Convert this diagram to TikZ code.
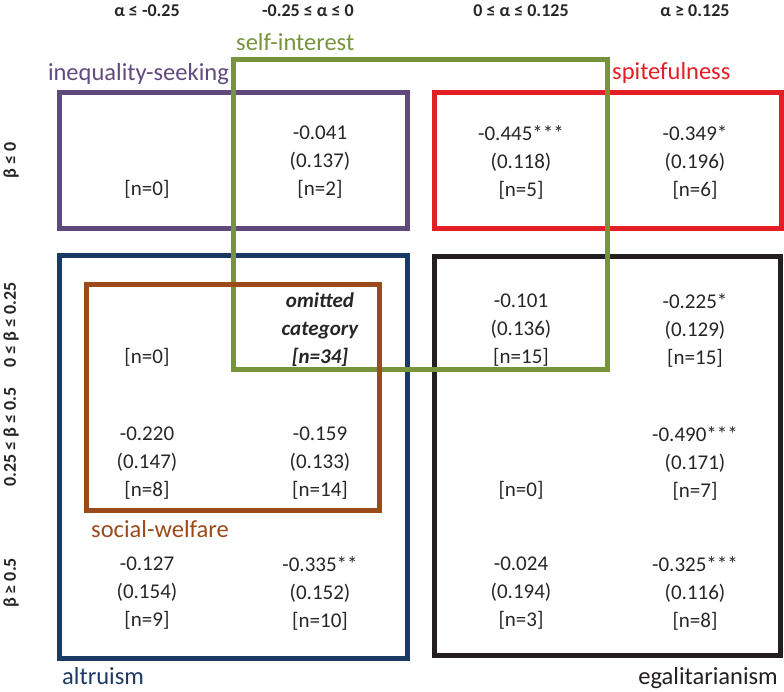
\documentclass[tikz,border=0pt]{standalone}
\usepackage{fontspec}
\setmainfont{Carlito}
\usetikzlibrary{positioning}
\definecolor{ineqpurple}{HTML}{604A7B}
\definecolor{selfgreen}{HTML}{77933C}
\definecolor{spitered}{HTML}{E31E24}
\definecolor{altrublue}{HTML}{1B3A63}
\definecolor{welfbrown}{HTML}{9C4A1A}
\definecolor{egalblack}{HTML}{231F20}
\definecolor{cellgray}{HTML}{262626}
\tikzset{
  catbox/.style={line width=5pt},
  cell/.style={align=center,inner sep=0pt,text=cellgray,font=\fontsize{21}{28}\selectfont},
  nzero/.style={cell,anchor=base},
  colhead/.style={inner sep=0pt,text=cellgray,font=\fontsize{18}{20}\selectfont\bfseries},
  rowhead/.style={colhead,rotate=90},
  catlabel/.style={inner sep=0pt,font=\fontsize{24.5}{28}\selectfont}
}

\begin{document}
\begin{tikzpicture}[x=1pt,y=-1pt]
  \useasboundingbox (0,0) rectangle (784,691);
  % column and row heads
  \node[colhead] (h1) at (147,11) {α ≤ -0.25};
  \node[colhead] (h2) at (308,11) {-0.25 ≤ α ≤ 0};
  \node[colhead] (h3) at (521,11) {0 ≤ α ≤ 0.125};
  \node[colhead] (h4) at (695,11) {α ≥ 0.125};
  \node[rowhead] (r1) at (11,160) {β ≤ 0};
  \node[rowhead] (r2) at (11,325) {0 ≤ β ≤ 0.25};
  \node[rowhead] (r3) at (11,437) {0.25 ≤ β ≤ 0.5};
  \node[rowhead] (r4) at (11,583) {β ≥ 0.5};
  % the six types
  \draw[catbox,altrublue] (59.5,255.5) rectangle (407,658);
  \draw[catbox,egalblack] (434.5,256.5) rectangle (780.5,655);
  \draw[catbox,ineqpurple] (59.5,92.5) rectangle (407,228);
  \draw[catbox,spitered] (434.5,92.5) rectangle (781,228);
  \draw[catbox,selfgreen] (233.5,59.5) rectangle (607.5,369);
  \draw[catbox,welfbrown] (86.5,284.5) rectangle (379.5,510.5);
  \node[catlabel,text=selfgreen,anchor=base west] (lself) at (236,50) {self-interest};
  \node[catlabel,text=ineqpurple,anchor=base east] (lineq) at (229,80) {inequality-seeking};
  \node[catlabel,text=spitered,anchor=base west] (lspite) at (612,79) {spitefulness};
  \node[catlabel,text=welfbrown,anchor=base west] (lwelf) at (91,537) {social-welfare};
  \node[catlabel,text=altrublue,anchor=base west] (laltru) at (62,684) {altruism};
  \node[catlabel,text=egalblack,anchor=base east] (legal) at (778,684) {egalitarianism};
  % estimates
  \node[nzero] (c11) at (147,195) {[n=0]};
  \node[cell] (c12) at (320,162) {-0.041\\(0.137)\\{[n=2]}};
  \node[cell] (c13) at (521,162) {-0.445***\\(0.118)\\{[n=5]}};
  \node[cell] (c14) at (695,162) {-0.349*\\(0.196)\\{[n=6]}};
  \node[nzero] (c21) at (147,363) {[n=0]};
  \node[cell,font=\fontsize{21}{28}\selectfont\bfseries\itshape] (c22) at (320,330) {omitted\\category\\{[n=34]}};
  \node[cell] (c23) at (521,330) {-0.101\\(0.136)\\{[n=15]}};
  \node[cell] (c24) at (695,330) {-0.225*\\(0.129)\\{[n=15]}};
  \node[cell] (c31) at (147,463) {-0.220\\(0.147)\\{[n=8]}};
  \node[cell] (c32) at (320,463) {-0.159\\(0.133)\\{[n=14]}};
  \node[nzero] (c33) at (521,496) {[n=0]};
  \node[cell] (c34) at (695,463) {-0.490***\\(0.171)\\{[n=7]}};
  \node[cell] (c41) at (147,593) {-0.127\\(0.154)\\{[n=9]}};
  \node[cell] (c42) at (320,593) {-0.335**\\(0.152)\\{[n=10]}};
  \node[cell] (c43) at (521,593) {-0.024\\(0.194)\\{[n=3]}};
  \node[cell] (c44) at (695,593) {-0.325***\\(0.116)\\{[n=8]}};
\end{tikzpicture}
\end{document}
